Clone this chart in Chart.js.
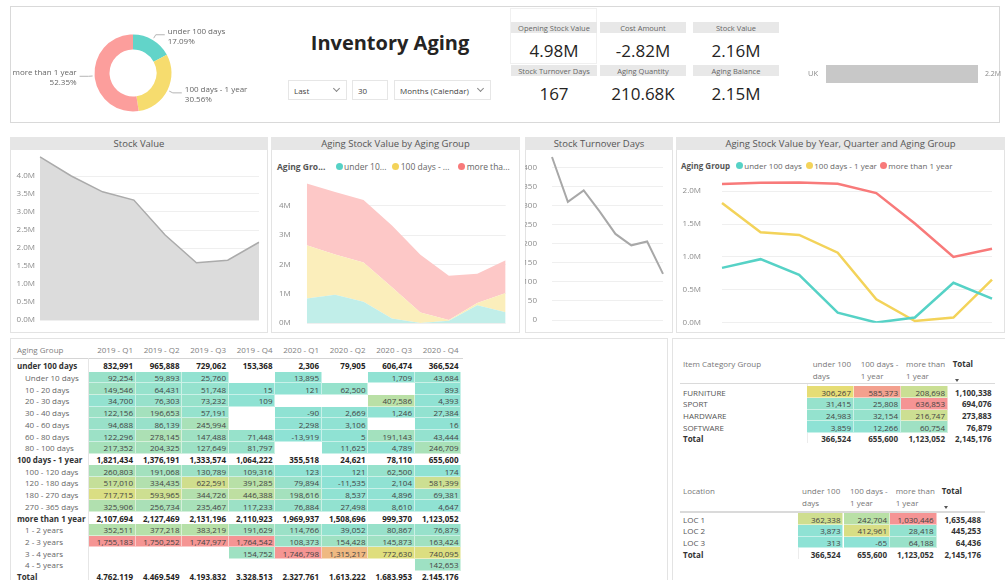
<!DOCTYPE html>
<html><head><meta charset="utf-8">
<script src="https://cdn.jsdelivr.net/npm/chart.js"></script>
<style>
html,body{margin:0;padding:0;background:#fff}
body{width:1005px;height:580px;position:relative;overflow:hidden;font-family:'Open Sans',sans-serif;color:#333}
.a{position:absolute;white-space:nowrap}
canvas{position:absolute}
</style></head><body>
<script>
// ---------------- DATA ----------------
const quarters = ['2019 - Q1','2019 - Q2','2019 - Q3','2019 - Q4','2020 - Q1','2020 - Q2','2020 - Q3','2020 - Q4'];
const agingGroups = ['under 100 days','100 days - 1 year','more than 1 year'];
const agingGroupsShort = ['under 10...','100 days - ...','more tha...'];
const agingHeadLines = [['under 100','days'],['100 days -','1 year'],['more than','1 year']];
const under100 = [832991,965888,729062,153368,2306,79905,606474,366524];
const days100to1y = [1821434,1376191,1333574,1064222,355518,24621,78110,655600];
const over1y = [2107694,2127469,2131196,2110923,1969937,1508696,999370,1123052];
const stockValue = [4530000,4000000,3560000,3330000,2360000,1590000,1660000,2160000];
const turnoverDays = [428,310,340,285,226,196,206,121];
const stockTicks = [0,500000,1000000,1500000,2000000,2500000,3000000,3500000,4000000];
const areaTicks = [0,1000000,2000000,3000000,4000000];
const turnoverTicks = [0,50,100,150,200,250,300,350,400];
const lineTicks = [0,500000,1000000,1500000,2000000];
const latestShare = [366524,655600,1123052];
const countries = ['UK'];
const countryStock = [2160000];
const kpiLabels = ['Opening Stock Value','Cost Amount','Stock Value','Stock Turnover Days','Aging Quantity','Aging Balance'];
const kpiValues = ['4.98M','-2.82M','2.16M','167','210.68K','2.15M'];
const filterValues = ['Last','30','Months (Calendar)'];
const panelTitles = ['Stock Value','Aging Stock Value by Aging Group','Stock Turnover Days','Aging Stock Value by Year, Quarter and Aging Group'];
const matrixRows = ['under 100 days','Under 10 days','10 - 20 days','20 - 30 days','30 - 40 days','40 - 60 days','60 - 80 days','80 - 100 days','100 days - 1 year','100 - 120 days','120 - 180 days','180 - 270 days','270 - 365 days','more than 1 year','1 - 2 years','2 - 3 years','3 - 4 years','4 - 5 years','Total'];
const matrixLevels = [0,1,1,1,1,1,1,1,0,1,1,1,1,0,1,1,1,1,2];
const matrixValues = [
 [832991,965888,729062,153368,2306,79905,606474,366524],
 [92254,59893,25760,null,13895,null,1709,43684],
 [149546,64431,51748,15,121,62500,null,893],
 [34700,76303,73232,109,null,null,407586,4393],
 [122156,196653,57191,null,-90,2669,1246,27384],
 [94688,86139,245994,null,2298,3106,null,16],
 [122296,278145,147488,71448,-13919,5,191143,43444],
 [217352,204325,127649,81797,null,11625,4789,246709],
 [1821434,1376191,1333574,1064222,355518,24621,78110,655600],
 [260803,191068,130789,109316,123,121,62500,174],
 [517010,334435,622591,391285,79894,-11535,2104,581399],
 [717715,593965,344726,446388,198616,8537,4896,69381],
 [325906,256734,235467,117233,76884,27498,8610,4647],
 [2107694,2127469,2131196,2110923,1969937,1508696,999370,1123052],
 [352511,377218,383219,191629,114766,39052,80867,76879],
 [1755183,1750252,1747977,1764542,108373,154428,145873,163424],
 [null,null,null,154752,1746798,1315217,772630,740095],
 [null,null,null,null,null,null,null,142653],
 [4762119,4469549,4193832,3328513,2327761,1613222,1683953,2145176]
];
const categoryRows = ['FURNITURE','SPORT','HARDWARE','SOFTWARE'];
const categoryUnder100 = [306267,31415,24983,3859];
const category100to1y = [585373,25808,32154,12266];
const categoryOver1y = [208698,636853,216747,60754];
const categoryTotal = [1100338,694076,273883,76879];
const locationRows = ['LOC 1','LOC 2','LOC 3'];
const locationUnder100 = [362338,3873,313];
const location100to1y = [242704,412961,-65];
const locationOver1y = [1030446,28418,64188];
const locationTotal = [1635488,445253,64436];
const columnTotals = [366524,655600,1123052,2145176];

// ---------------- HELPERS ----------------
const F = "'Open Sans', sans-serif";
const B = document.body;
function div(l,t,w,h,css){const d=document.createElement('div');d.className='a';Object.assign(d.style,{left:l+'px',top:t+'px',width:w+'px',height:h+'px'},css||{});B.appendChild(d);return d;}
function T(x,yc,text,o){o=o||{};const s=o.size||8,lh=Math.round(s*1.35);const d=document.createElement('div');d.className='a';d.textContent=text;
 Object.assign(d.style,{top:(yc-lh/2)+'px',lineHeight:lh+'px',fontSize:s+'px',fontWeight:o.weight||400,color:o.color||'#333'});
 if(o.align==='right'){d.style.right=(1005-x)+'px';d.style.textAlign='right';}
 else if(o.align==='center'){d.style.left=(x-250)+'px';d.style.width='500px';d.style.textAlign='center';}
 else d.style.left=x+'px';
 B.appendChild(d);return d;}
const fmt = v => v.toLocaleString('en-US');
function heat(v,min,max){const mid=(min+max)/2,lo=[142,226,213],md=[234,221,113],hi=[245,148,148];let a,b,t;
 if(v<=mid){a=lo;b=md;t=(v-min)/(mid-min);}else{a=md;b=hi;t=(v-mid)/(max-mid);}t=Math.max(0,Math.min(1,t));
 return 'rgb('+a.map((c,i)=>Math.round(c+(b[i]-c)*t)).join(',')+')';}
function canvas(l,t,w,h){const c=document.createElement('canvas');c.width=w;c.height=h;c.style.left=l+'px';c.style.top=t+'px';c.style.width=w+'px';c.style.height=h+'px';B.appendChild(c);return c;}
function yScale(width,pad,ticks,max,lab,extra){return Object.assign({min:0,max:max,
 afterFit(s){s.width=width;s.paddingTop=0;s.paddingBottom=0;},
 afterBuildTicks(s){s.ticks=ticks.map(v=>({value:v}));},
 ticks:{padding:pad,color:'#8C8C8C',font:{family:F,size:8},callback:v=>lab(v)},
 grid:{color:'#EFEFEF',drawTicks:false,lineWidth:1},border:{display:false}},extra||{});}
const hiddenX = {display:false};
const baseOpts = (pad)=>({responsive:false,animation:false,devicePixelRatio:1,layout:{padding:pad},plugins:{legend:{display:false},tooltip:{enabled:false}}});

// ---------------- FRAMES ----------------
div(10,6,990,117,{border:'1px solid #D9D9D9',boxSizing:'border-box'});
T(390,42,'Inventory Aging',{size:20,weight:700,align:'center',color:'#252423'});
const fBoxes=[[288,59],[352,36],[394,97]];
fBoxes.forEach((b,i)=>{div(b[0],80,b[1],20,{border:'1px solid #E6E6E6',boxSizing:'border-box'});
 T(b[0]+6,90,filterValues[i],{size:8,color:'#444'});
 if(i!==1){div(b[0]+b[1]-13,86,4,4,{borderRight:'1px solid #888',borderBottom:'1px solid #888',transform:'rotate(45deg)'});}});
div(510,8,87,56,{border:'1px solid #F0F0F0',boxSizing:'border-box'});
const kpiX=[511,600,693];
kpiLabels.forEach((lb,i)=>{const c=i%3,r=Math.floor(i/3);const x=kpiX[c],hy=r?65:22;
 div(x,hy,86,11,{background:'#E8E8E8'});
 T(x+43,hy+5.5,lb,{size:7.5,color:'#666',align:'center'});
 T(x+43,r?93:50,kpiValues[i],{size:17,color:'#252423',align:'center'});});
const panels=[[10,268],[271,520],[525,673],[676,1005]];
panels.forEach((p,i)=>{div(p[0],137,p[1]-p[0],196,{border:'1px solid #E3E3E3',borderTop:'none',boxSizing:'border-box'});
 div(p[0],137,p[1]-p[0],13,{background:'#E6E6E6'});
 T((p[0]+p[1])/2,143.5,panelTitles[i],{size:9.5,color:'#555',align:'center'});});
div(10,338,658,244,{border:'1px solid #E3E3E3',boxSizing:'border-box'});
div(672,338,335,244,{border:'1px solid #E3E3E3',boxSizing:'border-box'});

// ---------------- DONUT ----------------
const donutColors=['#62D4C9','#F6DC6E','#FC9E9C'];
const donutLabels={id:'donutLabels',afterDatasetsDraw(chart){const ctx=chart.ctx,meta=chart.getDatasetMeta(0),data=chart.data.datasets[0].data,total=data.reduce((a,b)=>a+b,0);
 meta.data.forEach((arc,i)=>{const p=arc.getProps(['x','y','startAngle','endAngle','outerRadius'],true);const a=(p.startAngle+p.endAngle)/2,c=Math.cos(a),s=Math.sin(a),right=c>=0;
  const ax=p.x+c*(p.outerRadius+2),ay=p.y+s*(p.outerRadius+2),bx=p.x+c*(p.outerRadius+6),by=p.y+s*(p.outerRadius+6),ex=bx+(right?9:-9);
  ctx.save();ctx.strokeStyle='#B5B5B5';ctx.lineWidth=1;ctx.beginPath();ctx.moveTo(ax,ay);ctx.lineTo(bx,by);ctx.lineTo(ex,by);ctx.stroke();
  ctx.fillStyle='#666';ctx.font='8px '+F;ctx.textAlign=right?'left':'right';ctx.textBaseline='middle';const tx=ex+(right?3:-3);
  ctx.fillText(chart.data.labels[i],tx,by-3.5);ctx.fillText((data[i]/total*100).toFixed(2)+'%',tx,by+6.5);ctx.restore();});}};
new Chart(canvas(10,8,250,112),{type:'doughnut',data:{labels:agingGroups,datasets:[{data:latestShare,backgroundColor:donutColors,borderWidth:0}]},
 options:Object.assign(baseOpts({left:0,right:4,top:26.5,bottom:8.5}),{cutout:'61%'}),plugins:[donutLabels]});

// ---------------- UK BAR ----------------
const barValueLabel={id:'barValueLabel',afterDatasetsDraw(chart){const ctx=chart.ctx,meta=chart.getDatasetMeta(0);
 meta.data.forEach((b,i)=>{const v=chart.data.datasets[0].data[i];ctx.save();ctx.fillStyle='#888';ctx.font='7px '+F;ctx.textAlign='left';ctx.textBaseline='middle';ctx.fillText((v/1e6).toFixed(1)+'M',b.x+7,b.y);ctx.restore();});}};
new Chart(canvas(800,60,205,30),{type:'bar',data:{labels:countries,datasets:[{data:countryStock,backgroundColor:'#C8C8C8',barPercentage:1,categoryPercentage:1}]},
 options:Object.assign(baseOpts({left:0,right:27,top:5,bottom:7}),{indexAxis:'y',scales:{
  x:{display:false,min:0,max:Math.max(...countryStock)},
  y:{afterFit(s){s.width=26;s.paddingTop=0;s.paddingBottom=0;},ticks:{padding:8,color:'#8C8C8C',font:{family:F,size:7.5}},grid:{display:false,drawTicks:false},border:{display:false}}}}),plugins:[barValueLabel]});

// ---------------- STOCK VALUE ----------------
const mFmt1 = v => (v/1e6).toFixed(1)+'M';
new Chart(canvas(10,150,258,183),{type:'line',data:{labels:quarters,datasets:[{data:stockValue,borderColor:'#ABABAB',backgroundColor:'#DCDCDC',borderWidth:1.5,fill:'origin',pointRadius:0,tension:0}]},
 options:Object.assign(baseOpts({left:0,right:9,top:4.4,bottom:13}),{scales:{x:hiddenX,y:yScale(30,5,stockTicks,4600000,mFmt1)}})});

// ---------------- STACKED AREA ----------------
const areaColors=['#C1EEE9','#FBEEBB','#FDC8C7'];
const lineColors=['#56D2C6','#F3D35A','#F87A7A'];
T(277,166,'Aging Gro...',{size:8.5,weight:700,color:'#555'});
const aLegX=[339,395.7,461.7];
aLegX.forEach((x,i)=>{div(x-3.5,162.5,7,7,{borderRadius:'50%',background:lineColors[i]});T(x+5,166,agingGroupsShort[i],{size:8.5,color:'#666'});});
const stackSeries=[under100,days100to1y,over1y];
new Chart(canvas(271,150,249,183),{type:'line',data:{labels:quarters,datasets:stackSeries.map((d,i)=>({data:d,backgroundColor:areaColors[i],borderWidth:0,borderColor:'rgba(0,0,0,0)',fill:i===0?'origin':'-1',pointRadius:0,tension:0}))},
 options:Object.assign(baseOpts({left:0,right:14.3,top:26.5,bottom:10}),{scales:{x:hiddenX,y:yScale(35.7,16,areaTicks,5000000,v=>(v/1e6)+'M',{stacked:true})}})});

// ---------------- TURNOVER ----------------
new Chart(canvas(525,150,148,183),{type:'line',data:{labels:quarters,datasets:[{data:turnoverDays,borderColor:'#A8A8A8',borderWidth:2,fill:false,pointRadius:0,tension:0}]},
 options:Object.assign(baseOpts({left:0,right:10,top:2.4,bottom:13}),{scales:{x:hiddenX,y:yScale(27,15,turnoverTicks,440,v=>String(v))}})});

// ---------------- LINE CHART ----------------
T(681,165,'Aging Group',{size:8,weight:700,color:'#555'});
const lLegX=[739.3,809.3,883.3];
lLegX.forEach((x,i)=>{div(x-3.5,161.5,7,7,{borderRadius:'50%',background:lineColors[i]});T(x+5,165,agingGroups[i],{size:8,color:'#666'});});
new Chart(canvas(676,150,329,183),{type:'line',data:{labels:quarters,datasets:stackSeries.map((d,i)=>({data:d,borderColor:lineColors[i],borderWidth:2.5,fill:false,pointRadius:0,tension:0}))},
 options:Object.assign(baseOpts({left:0,right:13,top:21.4,bottom:10.3}),{scales:{x:hiddenX,y:yScale(46,21,lineTicks,2300000,mFmt1)}})});

// ---------------- MATRIX TABLE ----------------
const colL=[89,135.5,182,228.5,275,321.5,368,414.5],colW=46.5,rowH=11.72,row0=365.7;
T(17,349,'Aging Group',{size:8,color:'#808080'});
quarters.forEach((q,j)=>T(colL[j]+colW-2.5,349,q,{size:8,color:'#808080',align:'right'}));
div(13,357.5,450,1,{background:'#D5D5D5'});
div(88,358,1,222,{background:'#E6E6E6'});
let childVals=[];matrixValues.forEach((r,i)=>{if(matrixLevels[i]===1)r.forEach(v=>{if(v!==null)childVals.push(v);});});
const mMin=Math.min(...childVals),mMax=Math.max(...childVals);
matrixRows.forEach((lab,i)=>{const yc=row0+i*rowH,lv=matrixLevels[i];
 T(lv===1?25:17,yc,lab,{size:8,weight:lv===1?400:700,color:lv===1?'#666':'#333'});
 matrixValues[i].forEach((v,j)=>{if(v===null)return;
  if(lv===1)div(colL[j],yc-rowH/2,colW,rowH,{background:heat(v,mMin,mMax),borderRight:'1px solid rgba(255,255,255,.5)',borderBottom:'1px solid rgba(255,255,255,.5)',boxSizing:'border-box'});
  T(colL[j]+colW-2.5,yc,fmt(v),{size:8,weight:lv===1?400:700,color:lv===1?'#444':'#252423',align:'right'});});});

// ---------------- SMALL TABLES ----------------
function smallTable(title,rows,cols,totals,g){
 T(683,g.h1,title,{size:8,color:'#777'});
 agingHeadLines.forEach((h,j)=>{T(g.hx[j],g.h1,h[0],{size:8,color:'#777'});T(g.hx[j],g.h1+12.5,h[1],{size:8,color:'#777'});});
 T(g.hx[3],g.h1,'Total',{size:8,weight:700,color:'#333'});
 div(g.hx[3]+2,g.h1+16,0,0,{borderLeft:'2.5px solid transparent',borderRight:'2.5px solid transparent',borderTop:'3px solid #555'});
 div(680,g.sep,g.sepW,1.5,{background:'#DADADA'});
 div(g.cl[0],g.sep+1.5,1,(rows.length+1)*11.7,{background:'#ECECEC'});
 let all=[];cols.forEach(c=>all.push(...c));const mn=Math.min(...all),mx=Math.max(...all);
 rows.forEach((r,i)=>{const yc=g.r0+i*11.7;T(683,yc,r,{size:8,color:'#555'});
  cols.forEach((c,j)=>{div(g.cl[j],yc-5.85,g.cl[j+1]-g.cl[j],11.7,{background:heat(c[i],mn,mx),borderRight:'1px solid rgba(255,255,255,.5)',borderBottom:'1px solid rgba(255,255,255,.5)',boxSizing:'border-box'});
   T(g.cl[j+1]-3,yc,fmt(c[i]),{size:8,color:'#444',align:'right'});});
  T(g.tr,yc,fmt(totals[i]),{size:8,weight:700,color:'#333',align:'right'});});
 const ty=g.r0+rows.length*11.7;T(683,ty,'Total',{size:8,weight:700,color:'#333'});
 columnTotals.forEach((v,j)=>T(j<3?g.cl[j+1]-3:g.tr,ty,fmt(v),{size:8,weight:700,color:'#333',align:'right'}));}
smallTable('Item Category Group',categoryRows,[categoryUnder100,category100to1y,categoryOver1y],categoryTotal,
 {h1:363,hx:[812.7,860.7,906,952.7],sep:382.5,sepW:315,cl:[807,854,901,948],r0:392,tr:991.7});
smallTable('Location',locationRows,[locationUnder100,location100to1y,locationOver1y],locationTotal,
 {h1:490,hx:[802,850,895.7,941.7],sep:511,sepW:305,cl:[797.7,843.5,890,936.7],r0:519,tr:981});
</script>
</body></html>
